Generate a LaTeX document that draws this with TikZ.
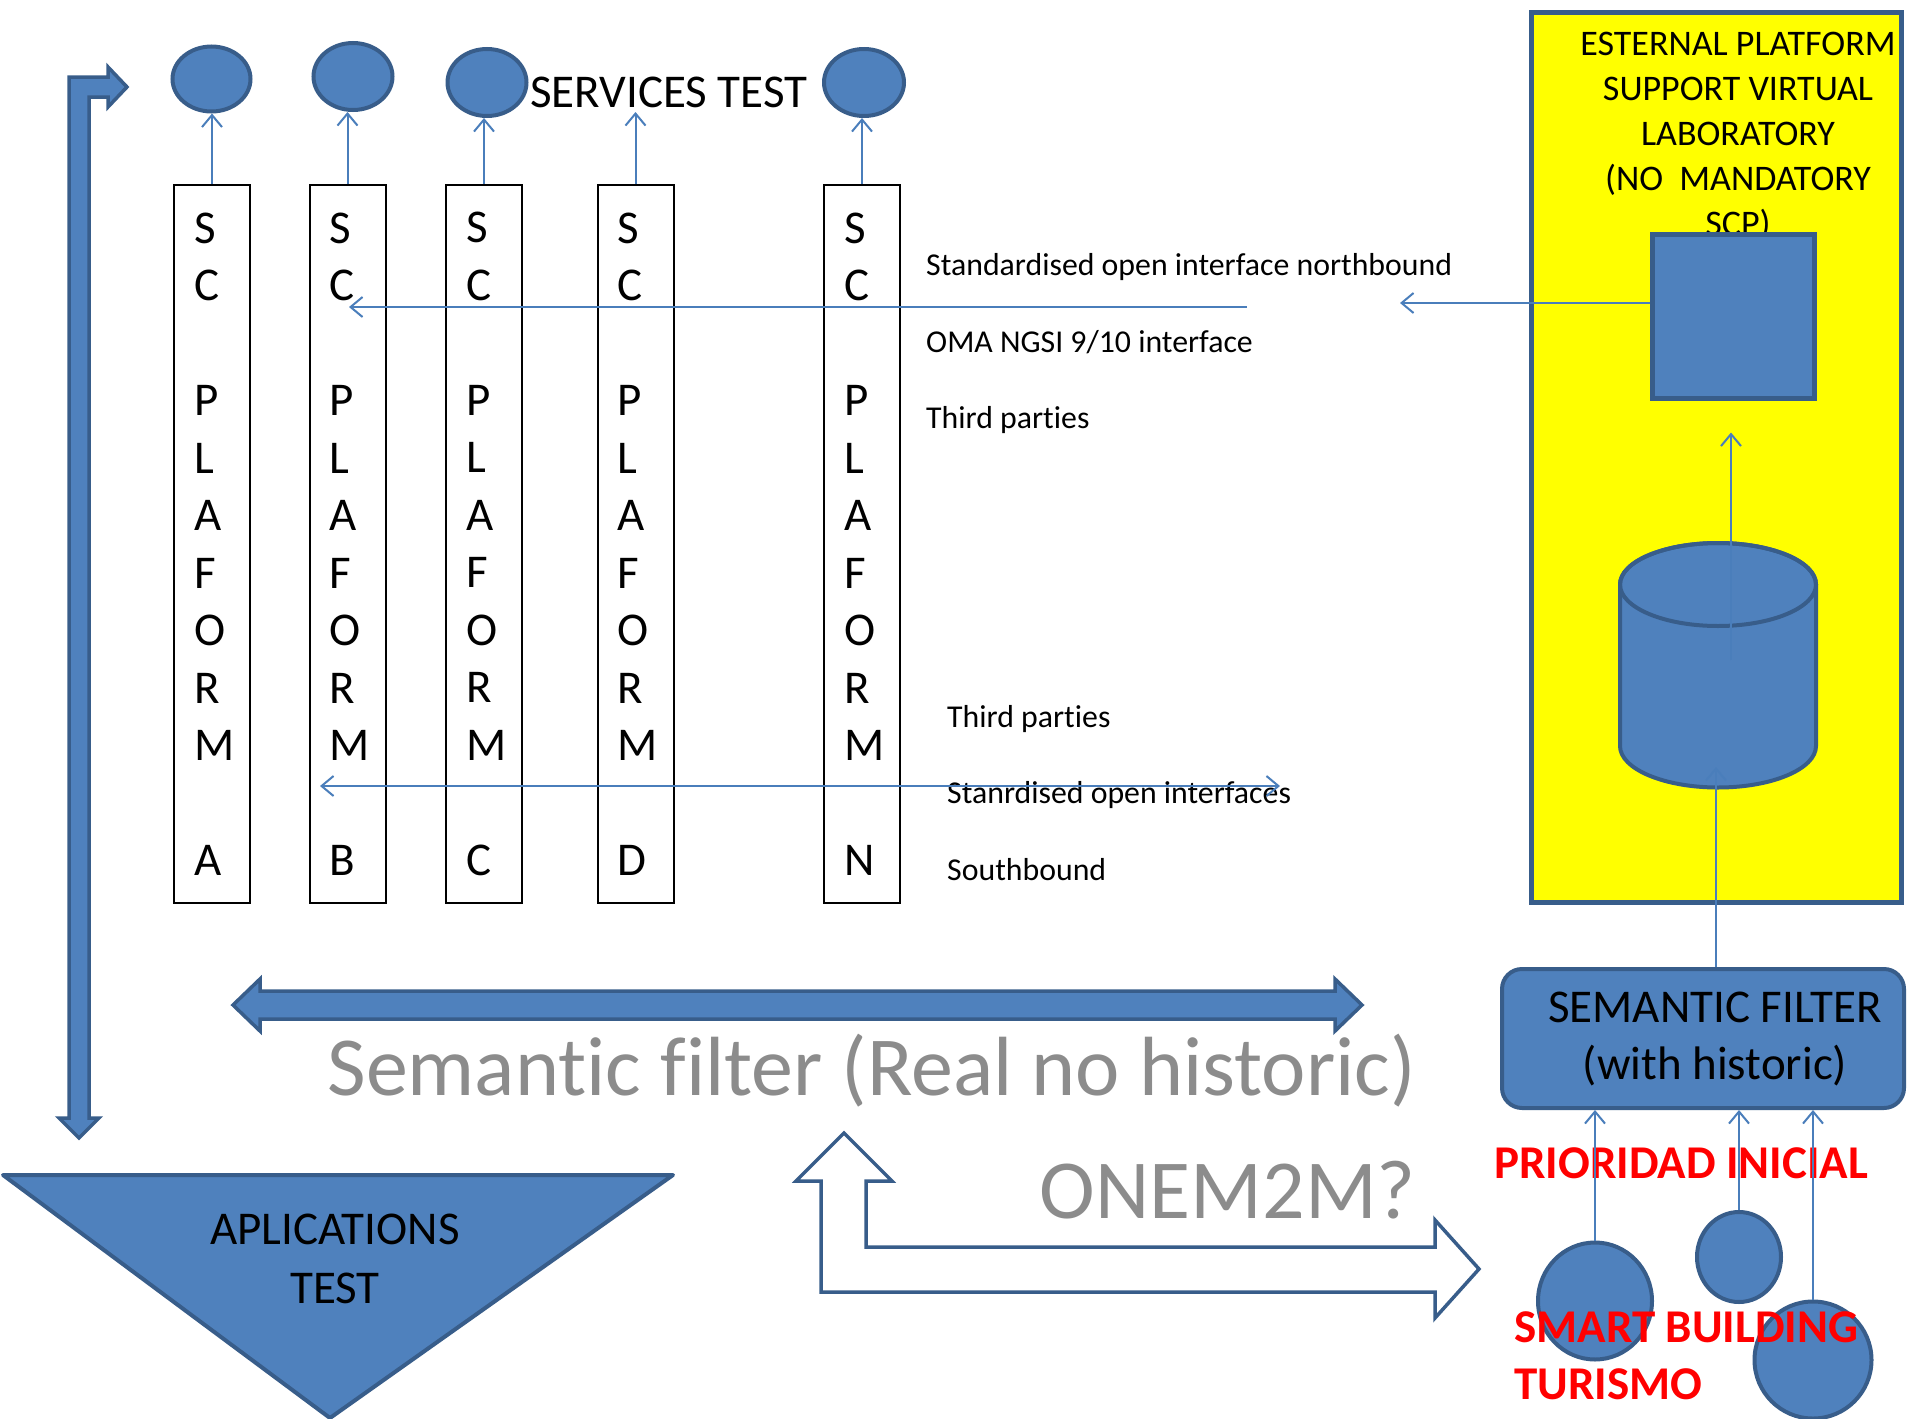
\documentclass[tikz,border=0pt]{standalone}
\usepackage{fontspec}
\setmainfont{Carlito}[Ligatures=NoCommon]
\usetikzlibrary{shapes.geometric,arrows.meta}
\definecolor{ppblue}{HTML}{4F81BD}
\definecolor{ppedge}{HTML}{385D8A}
\definecolor{ppline}{HTML}{4A7EBB}
\definecolor{ppgray}{HTML}{8C8C8C}
\definecolor{ppyellow}{HTML}{FFFF00}
\begin{document}
\begin{tikzpicture}[x=1pt,y=-1pt,
  >={Straight Barb[length=12pt,width=20pt]},
  conn/.style={draw=ppline,line width=2pt},
  svc/.style={ellipse,fill=ppblue,draw=ppedge,line width=4pt,inner sep=0pt},
  colbox/.style={draw=black,line width=2pt,minimum width=76pt,minimum height=718pt,
    text width=36pt,inner xsep=20pt,inner ysep=0pt,align=left,
    font=\fontsize{47}{57.5}\selectfont},
  lbl/.style={anchor=base west,inner sep=0pt,font=\fontsize{31.8}{36}\selectfont},
  bigtxt/.style={anchor=base east,inner sep=0pt,text=ppgray,font=\fontsize{84}{100}\selectfont},
  redtxt/.style={inner sep=0pt,text=red,font=\bfseries\fontsize{47}{57}\selectfont},
  blockarrow/.style={fill=ppblue,draw=ppedge,line width=3.5pt,line join=miter}]
\useasboundingbox (0,0) rectangle (1907,1419);

% external platform
\node[draw=ppedge,line width=5pt,fill=ppyellow,minimum width=370pt,minimum height=890pt] (ext) at (1716,457) {};
\node[anchor=north,inner sep=0pt,align=center,font=\fontsize{36}{45}\selectfont] (extT) at (1738,32)
  {ESTERNAL PLATFORM\\SUPPORT VIRTUAL\\LABORATORY\\(NO\ \ MANDATORY\\SCP)};
\node[draw=ppedge,line width=5pt,fill=ppblue,minimum width=162pt,minimum height=164pt] (scp) at (1733,316) {};

% data store
\node[minimum width=196pt,minimum height=245pt,inner sep=0pt] (db) at (1718,665.5) {};
\filldraw[fill=ppblue,draw=ppedge,line width=4pt] (1620,584.5) -- (1620,746)
  arc[start angle=180,end angle=0,x radius=98,y radius=41.5] -- (1816,584.5)
  arc[start angle=0,end angle=-180,x radius=98,y radius=41.5] -- cycle;
\draw[draw=ppedge,line width=4pt] (1718,584.5) ellipse[x radius=98,y radius=41.5];

% services
\node[svc,minimum width=78pt,minimum height=65pt] (svcA) at (211.5,79) {};
\node[svc,minimum width=79pt,minimum height=67pt] (svcB) at (353,76.5) {};
\node[svc,minimum width=79pt,minimum height=67pt] (svcC) at (487,82.5) {};
\node[svc,minimum width=80pt,minimum height=67pt] (svcN) at (864,82.5) {};
\node[anchor=base west,inner sep=0pt,font=\fontsize{47}{57}\selectfont] (svcT) at (530,107) {SERVICES TEST};

% platforms
\foreach \nm/\xc/\letr in {A/212/A,B/347.5/B,C/484/C,D/635.5/D,N/862/N}
  \node[colbox] (col\nm) at (\xc,544) {S\\C\\~\\P\\L\\A\\F\\O\\R\\M\\~\\\letr};
\foreach \nm in {A,B,C,N}
  \draw[conn,->] (col\nm.north) -- (col\nm.north |- svc\nm.south);
\draw[conn,->] (colD.north) -- (colD.north |- 0,112);

\node[lbl] (nb1) at (926,275) {Standardised open interface northbound};
\node[lbl] (nb2) at (926,352) {OMA NGSI 9/10 interface};
\node[lbl] (nb3) at (926,428) {Third parties};
\node[lbl] (sb1) at (947,727) {Third parties};
\node[lbl] (sb2) at (947,803) {Stanrdised open interfaces};
\node[lbl] (sb3) at (947,880) {Southbound};

\coordinate (nbFrom) at (1247,307);
\coordinate (nbTo) at (349,307);
\coordinate (scpOut) at (1400,303);
\coordinate (sbL) at (320,786);
\coordinate (sbR) at (1280,786);
\draw[conn,->] (nbFrom) -- (nbTo);
\draw[conn,->] (scp.west |- scpOut) -- (scpOut);
\draw[conn,<->] (sbL) -- (sbR);

% semantic filter
\node[draw=ppedge,line width=4pt,fill=ppblue,rounded corners=20pt,minimum width=402pt,minimum height=139pt,
  align=center,font=\fontsize{47}{57}\selectfont] (sf) at (1703,1038.5)
  {\hspace*{24pt}SEMANTIC FILTER\\\hspace*{24pt}(with historic)};
\coordinate (dbIn) at (1716,767);
\coordinate (dbOut) at (1731,660);
\draw[conn,->] (sf.north -| dbIn) -- (dbIn);
\draw[conn,->,shorten >=32pt] (dbOut) -- (dbOut |- scp.south);

% sources
\node[svc,minimum width=114pt,minimum height=117pt] (srcA) at (1595,1301) {};
\node[svc,minimum width=84pt,minimum height=90pt] (srcB) at (1739,1257) {};
\node[svc,minimum width=117pt,minimum height=117pt] (srcC) at (1813,1360) {};
\node[redtxt,anchor=base west] (prio) at (1494,1178) {PRIORIDAD INICIAL};
\node[redtxt,anchor=north west,align=left] (smart) at (1514,1311) {SMART BUILDING\\TURISMO};
\foreach \nm in {A,B,C}
  \draw[conn,->] (src\nm.north) -- (src\nm.north |- sf.south);

% block arrows
\draw[blockarrow] (233,1005) -- (260,979) -- (260,991) -- (1335,991) -- (1335,979) -- (1362,1005)
  -- (1335,1031) -- (1335,1019) -- (260,1019) -- (260,1031) -- cycle;
\draw[blockarrow] (69,77) -- (108,77) -- (108,67) -- (127,87) -- (108,107) -- (108,97) -- (89,97)
  -- (89,1118) -- (99,1118) -- (79,1138) -- (59,1118) -- (69,1118) -- cycle;
\draw[blockarrow,fill=white] (844,1133) -- (892,1181) -- (866,1181) -- (866,1247) -- (1435,1247)
  -- (1435,1220) -- (1479,1269) -- (1435,1318) -- (1435,1292) -- (821,1292) -- (821,1181)
  -- (796,1181) -- cycle;

\node[bigtxt] (sfReal) at (1416,1095) {Semantic filter (Real no historic)};
\node[bigtxt] (onem2m) at (1416,1218) {ONEM2M?};

% applications
\draw[fill=ppblue,draw=ppedge,line width=4pt,line join=round] (3,1175) -- (673,1175) -- (330,1418) -- cycle;
\node[anchor=north,inner sep=0pt,align=center,font=\fontsize{47}{59}\selectfont] (apps) at (335,1214) {APLICATIONS\\TEST};
\end{tikzpicture}
\end{document}
